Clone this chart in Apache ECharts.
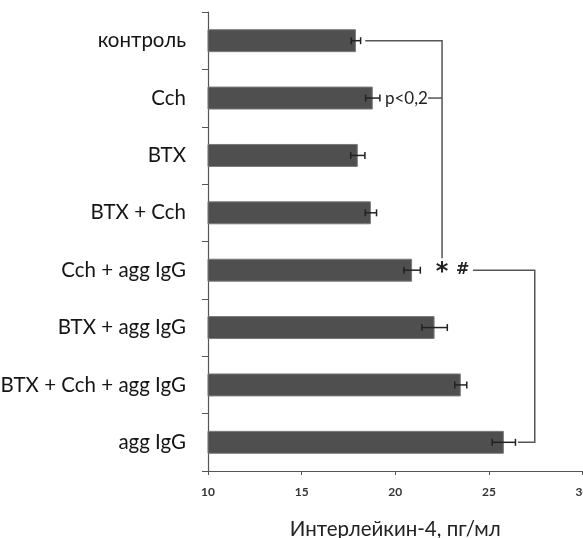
<!DOCTYPE html>
<html>
<head>
<meta charset="utf-8">
<script src="https://cdn.jsdelivr.net/npm/echarts@6/dist/echarts.min.js"></script>
<style>html,body{margin:0;padding:0;background:#fff}#c{width:583px;height:538px}</style>
</head>
<body>
<div id="c"></div>
<script>
const categories = ['контроль', 'Cch', 'BTX', 'BTX + Cch', 'Cch + agg IgG', 'BTX + agg IgG', 'BTX + Cch + agg IgG', 'agg IgG'];
const values = [17.9, 18.8, 18.0, 18.7, 20.9, 22.1, 23.5, 25.8];
const errors = [0.25, 0.38, 0.38, 0.3, 0.44, 0.68, 0.32, 0.62];
const xTicks = [10, 15, 20, 25, 30];
const axisName = 'Интерлейкин-4, пг/мл';
const pLabel = 'p<0,2';
const starLabel = '*';
const hashLabel = '#';

const chart = echarts.init(document.getElementById('c'));
const lineCol = '#555';
const ann = { // annotation anchors in data units
  b1x: 22.5, b1start: 18.4,
  pTextX: 19.45, pLineStart: 21.75,
  hashX: 23.6, b2start: 24.15, b2x: 27.45, b2end: 26.55
};

chart.setOption({
  animation: false,
  grid: { left: 208, right: 0.5, top: 12, bottom: 67, containLabel: false, outerBoundsMode: 'none' },
  xAxis: {
    type: 'value', min: xTicks[0], max: xTicks[xTicks.length - 1], interval: xTicks[1] - xTicks[0],
    axisLine: { show: true, lineStyle: { color: '#555', width: 1.2 } },
    axisTick: { show: true, length: 4, lineStyle: { color: '#555' } },
    splitLine: { show: false },
    axisLabel: { fontSize: 12, fontWeight: 'bold', color: '#333', margin: 15, fontFamily: 'Lato' },
    name: axisName, nameLocation: 'middle', nameGap: 48,
    nameTextStyle: { fontSize: 20.5, color: '#222', fontFamily: 'Lato' }
  },
  yAxis: {
    type: 'category', data: categories, inverse: true,
    axisLine: { show: true, lineStyle: { color: '#555', width: 1.2 } },
    axisTick: { show: true, length: 6, lineStyle: { color: '#555' } },
    axisLabel: { fontSize: 20.5, color: '#151515', margin: 22, fontFamily: 'Lato' }
  },
  series: [
    {
      type: 'bar', data: values, barCategoryGap: '60%',
      itemStyle: { color: '#4f4f4f', borderColor: '#7a7a7a', borderWidth: 1 }
    },
    {
      type: 'custom',
      data: values.map((v, i) => [v - errors[i], v + errors[i], i]),
      encode: { x: [0, 1], y: 2 },
      renderItem: function (params, api) {
        const lo = api.coord([api.value(0), api.value(2)]);
        const hi = api.coord([api.value(1), api.value(2)]);
        const h = 3.5;
        const st = { stroke: '#222', lineWidth: 1.5 };
        return { type: 'group', children: [
          { type: 'line', shape: { x1: lo[0], y1: lo[1], x2: hi[0], y2: hi[1] }, style: st },
          { type: 'line', shape: { x1: lo[0], y1: lo[1] - h, x2: lo[0], y2: lo[1] + h }, style: st },
          { type: 'line', shape: { x1: hi[0], y1: hi[1] - h, x2: hi[0], y2: hi[1] + h }, style: st }
        ]};
      },
      z: 3
    },
    {
      type: 'custom',
      data: [[ann.b1x, 0]],
      encode: { x: 0, y: 1 },
      renderItem: function (params, api) {
        const band = api.size([0, 1])[1];
        const st = { stroke: lineCol, lineWidth: 1.5 };
        const a0 = api.coord([ann.b1start, 0]);
        const a1 = api.coord([ann.b1x, 0]);
        const a2 = api.coord([ann.b1x, 4]);
        const p0 = api.coord([ann.pTextX, 1]);
        const p1 = api.coord([ann.pLineStart, 1]);
        const p2 = api.coord([ann.b1x, 1]);
        const s = api.coord([ann.b1x, 4]);
        const hs = api.coord([ann.hashX, 4]);
        const c0 = api.coord([ann.b2start, 4]);
        const c1 = api.coord([ann.b2x, 4]);
        const c2 = api.coord([ann.b2x, 7]);
        const c3 = api.coord([ann.b2end, 7]);
        return { type: 'group', children: [
          { type: 'polyline', shape: { points: [a0, a1, [a2[0], a2[1] - band * 0.21]] }, style: Object.assign({ fill: null }, st) },
          { type: 'text', x: p0[0], y: p0[1], style: { text: pLabel, fontSize: 17, fontFamily: 'Lato', fill: '#222', verticalAlign: 'middle', align: 'left' } },
          { type: 'line', shape: { x1: p1[0], y1: p1[1], x2: p2[0], y2: p2[1] }, style: st },
          { type: 'text', x: s[0], y: s[1] + 3, style: { text: starLabel, fontSize: 24, fontWeight: 'bold', fontFamily: 'DejaVu Sans', fill: '#222', verticalAlign: 'middle', align: 'center' } },
          { type: 'text', x: hs[0], y: hs[1], style: { text: hashLabel, fontSize: 16, fontWeight: 'bold', fontFamily: 'DejaVu Sans', fill: '#222', verticalAlign: 'middle', align: 'center' } },
          { type: 'polyline', shape: { points: [c0, c1, c2, c3] }, style: Object.assign({ fill: null }, st) }
        ]};
      },
      z: 4
    }
  ]
});
</script>
</body>
</html>
